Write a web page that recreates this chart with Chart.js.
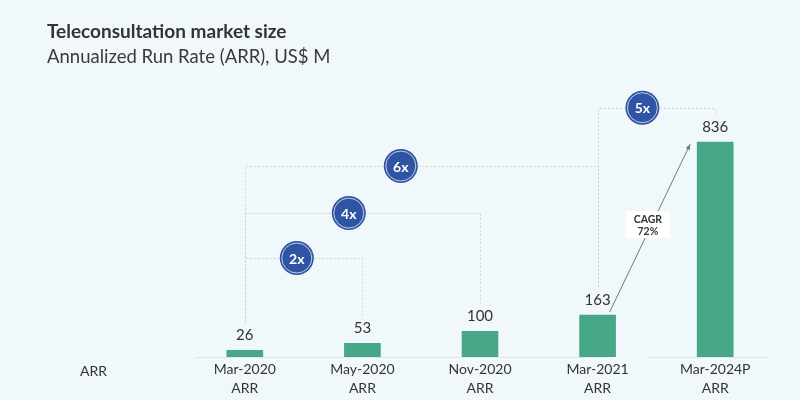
<!DOCTYPE html>
<html>
<head>
<meta charset="utf-8">
<script src="https://cdn.jsdelivr.net/npm/chart.js@4"></script>
<style>
  body { margin: 0; background: #f1f8fc; }
  #wrap { width: 800px; height: 400px; position: relative; }
</style>
</head>
<body>
<div id="wrap"><canvas id="myChart" width="800" height="400"></canvas></div>
<script>
// data
var periods = [['Mar-2020', 'ARR'], ['May-2020', 'ARR'], ['Nov-2020', 'ARR'], ['Mar-2021', 'ARR'], ['Mar-2024P', 'ARR']];
var arrValues = [26, 53, 100, 163, 836];

// growth brackets: from bar, to bar, label, height on value axis
var bracketFrom = [0, 0, 0, 3];
var bracketTo = [1, 2, 3, 4];
var bracketText = ['2x', '4x', '6x', '5x'];
var bracketLevel = [385, 560, 743, 970];
var cagrText = ['CAGR', '72%'];

var font = 'Lato, "Open Sans", sans-serif';

// plugin to draw titles, brackets, circles, CAGR arrow
var extras = {
  id: 'extras',
  beforeDraw(chart) {
    var c = chart.ctx, x = chart.scales.x, y = chart.scales.y;
    c.save();
    c.fillStyle = '#f1f8fc';
    c.fillRect(0, 0, chart.width, chart.height);
    // baseline segments
    var base = Math.round(y.getPixelForValue(0));
    c.strokeStyle = '#dde6eb';
    c.lineWidth = 1;
    c.beginPath();
    c.moveTo(x.getPixelForValue(0) - 50, base + 0.5);
    c.lineTo(x.getPixelForValue(3) + 10, base + 0.5);
    c.moveTo(x.getPixelForValue(4) - 67, base + 0.5);
    c.lineTo(x.getPixelForValue(4) + 53, base + 0.5);
    c.stroke();
    c.restore();
  },
  afterDatasetsDraw(chart) {
    var c = chart.ctx, x = chart.scales.x, y = chart.scales.y;
    c.save();
    // titles
    c.fillStyle = '#333';
    c.textBaseline = 'alphabetic';
    c.textAlign = 'left';
    c.font = 'bold 19px ' + font;
    c.fillText('Teleconsultation market size', 47, 38);
    c.font = '18.5px ' + font;
    c.fillStyle = '#3a3a3a';
    c.fillText('Annualized Run Rate (ARR), US$ M', 47, 63);
    // row label
    c.font = '14px ' + font;
    c.fillStyle = '#333';
    c.textBaseline = 'middle';
    c.fillText('ARR', 80, 371);

    // brackets
    c.strokeStyle = '#c9d3d9';
    c.lineWidth = 1;
    c.setLineDash([2, 2]);
    for (var i = 0; i < bracketText.length; i++) {
      var x1 = x.getPixelForValue(bracketFrom[i]);
      var x2 = x.getPixelForValue(bracketTo[i]);
      var ly = Math.round(y.getPixelForValue(bracketLevel[i])) + 0.5;
      var b1 = y.getPixelForValue(arrValues[bracketFrom[i]]) - 28;
      var b2 = y.getPixelForValue(arrValues[bracketTo[i]]) - 28;
      c.beginPath();
      c.moveTo(Math.round(x1) + 0.5, b1);
      c.lineTo(Math.round(x1) + 0.5, ly);
      c.lineTo(Math.round(x2) + 0.5, ly);
      if (b2 > ly) c.lineTo(Math.round(x2) + 0.5, b2);
      c.stroke();
    }
    c.setLineDash([]);
    for (var i = 0; i < bracketText.length; i++) {
      var x1 = x.getPixelForValue(bracketFrom[i]);
      var x2 = x.getPixelForValue(bracketTo[i]);
      var cx = bracketFrom[i] == 3 ? (x1 + x2) / 2 - 14 : x1 + 52 * (i + 1);
      var cy = y.getPixelForValue(bracketLevel[i]);
      c.beginPath();
      c.arc(cx, cy, 17, 0, Math.PI * 2);
      c.fillStyle = '#2f54a3';
      c.fill();
      c.beginPath();
      c.arc(cx, cy, 15, 0, Math.PI * 2);
      c.strokeStyle = 'rgba(255,255,255,0.7)';
      c.lineWidth = 1;
      c.stroke();
      c.fillStyle = '#fff';
      c.font = 'bold 14px ' + font;
      c.textAlign = 'center';
      c.textBaseline = 'middle';
      c.fillText(bracketText[i], cx, cy + 1);
    }

    // CAGR arrow
    var ax1 = x.getPixelForValue(3) + 12, ay1 = y.getPixelForValue(arrValues[3]) - 3;
    var ax2 = x.getPixelForValue(4) - 25, ay2 = y.getPixelForValue(arrValues[4]) + 2;
    c.strokeStyle = '#777';
    c.fillStyle = '#777';
    c.lineWidth = 1;
    c.beginPath();
    c.moveTo(ax1, ay1);
    c.lineTo(ax2, ay2);
    c.stroke();
    var ang = Math.atan2(ay2 - ay1, ax2 - ax1);
    c.beginPath();
    c.moveTo(ax2, ay2);
    c.lineTo(ax2 - 6 * Math.cos(ang - 0.4), ay2 - 6 * Math.sin(ang - 0.4));
    c.lineTo(ax2 - 6 * Math.cos(ang + 0.4), ay2 - 6 * Math.sin(ang + 0.4));
    c.closePath();
    c.fill();
    var mx = (ax1 + ax2) / 2 - 2, my = (ay1 + ay2) / 2 - 4;
    c.fillStyle = '#fff';
    c.fillRect(mx - 22, my - 13, 44, 27);
    c.fillStyle = '#333';
    c.font = 'bold 10.5px ' + font;
    c.textAlign = 'center';
    c.textBaseline = 'middle';
    c.fillText(cagrText[0], mx, my - 5);
    c.fillText(cagrText[1], mx, my + 7);

    // value labels
    c.font = '15px ' + font;
    c.fillStyle = '#333';
    c.textBaseline = 'alphabetic';
    chart.getDatasetMeta(0).data.forEach(function (bar, i) {
      c.fillText(arrValues[i], bar.x, bar.y - 10);
    });
    c.restore();
  }
};

var ctx = document.getElementById('myChart').getContext('2d');
var myChart = new Chart(ctx, {
  type: 'bar',
  data: {
    labels: periods,
    datasets: [{
      data: arrValues,
      backgroundColor: '#46a886',
      barThickness: 36
    }]
  },
  options: {
    responsive: false,
    animation: false,
    layout: { padding: { left: 186, right: 26, top: 100, bottom: 0 } },
    plugins: { legend: { display: false }, tooltip: { enabled: false } },
    scales: {
      x: {
        grid: { display: false, drawTicks: false },
        border: { display: false },
        ticks: { color: '#333', font: { family: font, size: 14, lineHeight: 1.35 }, padding: 3 },
        afterFit: function (scale) { scale.height = 43; }
      },
      y: {
        display: false,
        min: 0,
        max: 1000
      }
    }
  },
  plugins: [extras]
});
</script>
</body>
</html>
